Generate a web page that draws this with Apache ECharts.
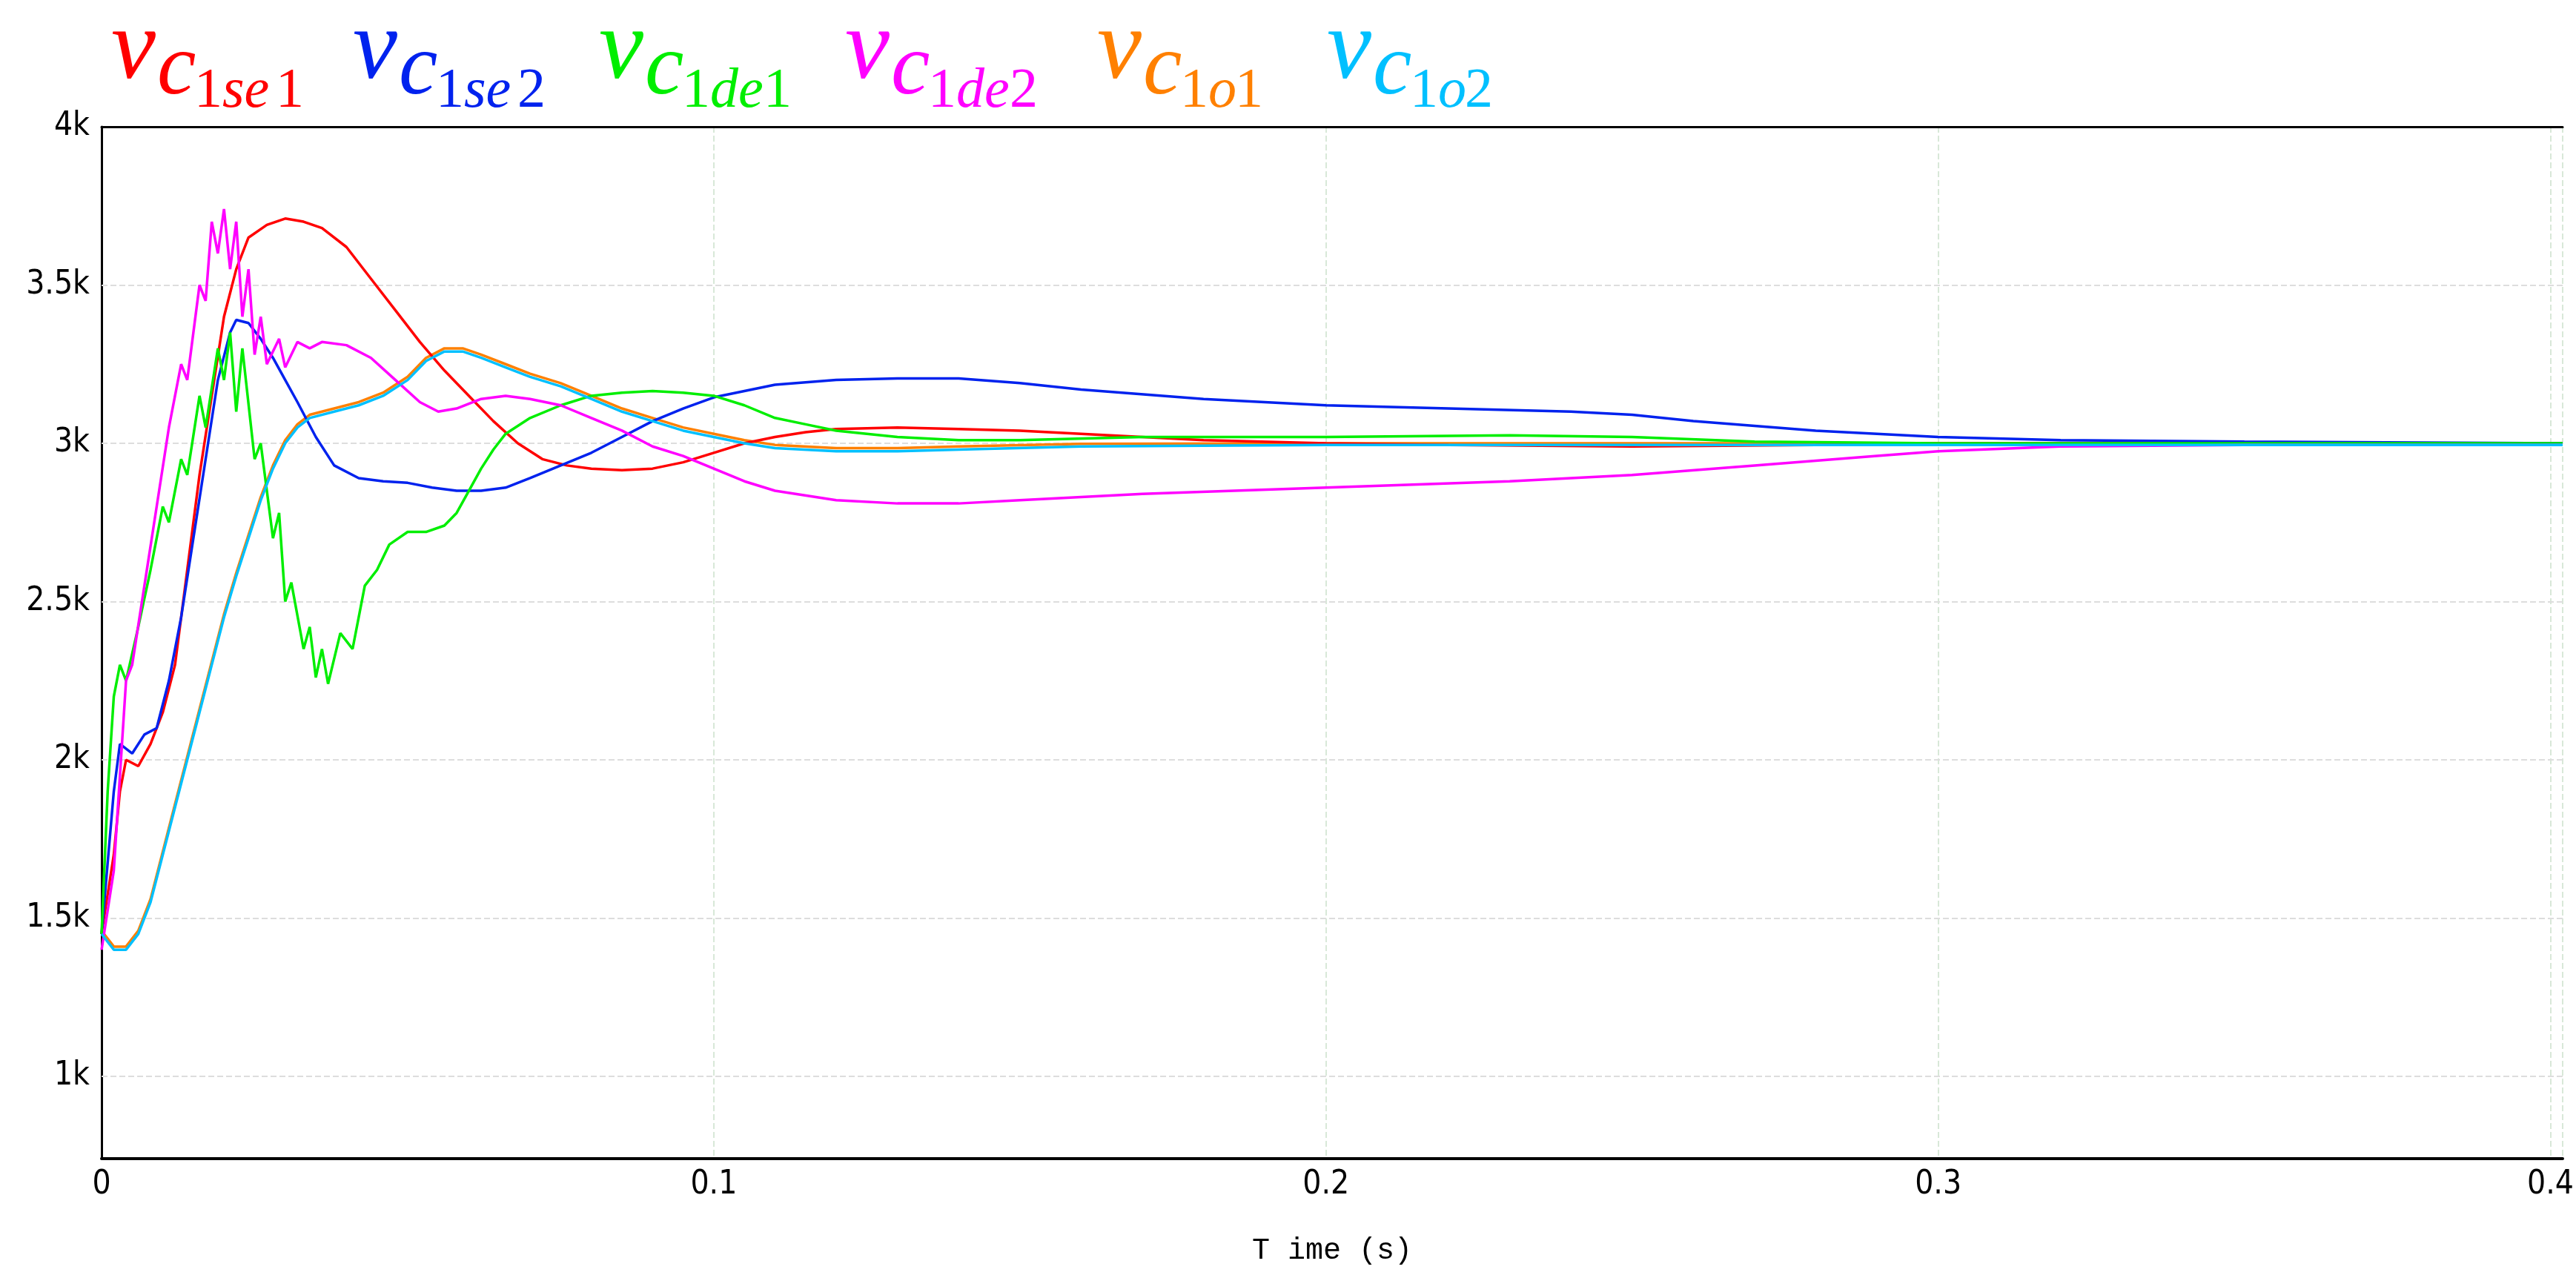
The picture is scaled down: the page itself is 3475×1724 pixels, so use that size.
<!DOCTYPE html>
<html><head><meta charset="utf-8">
<script src="https://cdn.jsdelivr.net/npm/echarts@6/dist/echarts.min.js"></script>
<style>html,body{margin:0;background:#fff}#c{width:3475px;height:1724px}</style>
</head><body><div id="c"></div>
<script>
const xTicks = [0, 0.1, 0.2, 0.3, 0.4];
const yTicks = [1000, 1500, 2000, 2500, 3000, 3500, 4000];
const seriesNames = ['se1','se2','de1','de2','o1','o2'];
const colors = ['#ff0000','#0022ee','#00ee00','#ff00ff','#ff8000','#00c0ff'];

const se1 = [[0,1450],[0.002,1700],[0.003,1900],[0.004,2000],[0.006,1980],[0.008,2050],[0.010,2150],[0.012,2300],[0.014,2600],[0.016,2900],[0.018,3150],[0.020,3400],[0.022,3550],[0.024,3650],[0.027,3690],[0.030,3710],[0.033,3700],[0.036,3680],[0.040,3620],[0.044,3520],[0.048,3420],[0.052,3320],[0.056,3230],[0.060,3150],[0.064,3070],[0.068,3000],[0.072,2950],[0.076,2930],[0.080,2920],[0.085,2915],[0.090,2920],[0.095,2940],[0.100,2970],[0.105,3000],[0.110,3020],[0.115,3035],[0.120,3045],[0.130,3050],[0.140,3045],[0.150,3040],[0.160,3030],[0.170,3020],[0.180,3010],[0.200,3000],[0.220,2995],[0.250,2990],[0.280,2995],[0.300,3000],[0.350,3000],[0.402,2995]];
const se2 = [[0,1450],[0.002,1900],[0.003,2050],[0.005,2020],[0.007,2080],[0.009,2100],[0.011,2250],[0.013,2450],[0.015,2700],[0.017,2950],[0.019,3200],[0.021,3350],[0.022,3390],[0.024,3380],[0.026,3330],[0.028,3270],[0.030,3200],[0.032,3130],[0.035,3020],[0.038,2930],[0.042,2890],[0.046,2880],[0.050,2875],[0.054,2860],[0.058,2850],[0.062,2850],[0.066,2860],[0.070,2890],[0.075,2930],[0.080,2970],[0.085,3020],[0.090,3070],[0.095,3110],[0.100,3145],[0.110,3185],[0.120,3200],[0.130,3205],[0.140,3205],[0.150,3190],[0.160,3170],[0.180,3140],[0.200,3120],[0.220,3110],[0.240,3100],[0.250,3090],[0.260,3070],[0.280,3040],[0.300,3020],[0.320,3010],[0.350,3005],[0.402,3000]];
const de1 = [[0,1450],[0.001,1900],[0.002,2200],[0.003,2300],[0.004,2250],[0.006,2420],[0.008,2600],[0.010,2800],[0.011,2750],[0.013,2950],[0.014,2900],[0.016,3150],[0.017,3050],[0.019,3300],[0.020,3200],[0.021,3350],[0.022,3100],[0.023,3300],[0.025,2950],[0.026,3000],[0.028,2700],[0.029,2780],[0.030,2500],[0.031,2560],[0.033,2350],[0.034,2420],[0.035,2260],[0.036,2350],[0.037,2240],[0.039,2400],[0.041,2350],[0.043,2550],[0.045,2600],[0.047,2680],[0.050,2720],[0.053,2720],[0.056,2740],[0.058,2780],[0.060,2850],[0.062,2920],[0.064,2980],[0.066,3030],[0.070,3080],[0.075,3120],[0.080,3150],[0.085,3160],[0.090,3165],[0.095,3160],[0.100,3150],[0.105,3120],[0.110,3080],[0.115,3060],[0.120,3040],[0.130,3020],[0.140,3010],[0.150,3010],[0.170,3020],[0.200,3020],[0.230,3025],[0.250,3020],[0.270,3005],[0.300,3000],[0.402,3000]];
const de2 = [[0,1400],[0.002,1650],[0.003,1950],[0.004,2250],[0.005,2300],[0.007,2550],[0.009,2800],[0.011,3050],[0.013,3250],[0.014,3200],[0.016,3500],[0.017,3450],[0.018,3700],[0.019,3600],[0.020,3740],[0.021,3550],[0.022,3700],[0.023,3400],[0.024,3550],[0.025,3280],[0.026,3400],[0.027,3250],[0.029,3330],[0.030,3240],[0.032,3320],[0.034,3300],[0.036,3320],[0.040,3310],[0.044,3270],[0.048,3200],[0.052,3130],[0.055,3100],[0.058,3110],[0.062,3140],[0.066,3150],[0.070,3140],[0.075,3120],[0.080,3080],[0.085,3040],[0.090,2990],[0.095,2960],[0.100,2920],[0.105,2880],[0.110,2850],[0.120,2820],[0.130,2810],[0.140,2810],[0.150,2820],[0.170,2840],[0.200,2860],[0.230,2880],[0.250,2900],[0.270,2930],[0.290,2960],[0.300,2975],[0.320,2990],[0.350,2995],[0.402,2995]];
const o1 = [[0,1460],[0.002,1410],[0.004,1410],[0.006,1460],[0.008,1560],[0.010,1710],[0.012,1860],[0.014,2010],[0.016,2160],[0.018,2310],[0.020,2460],[0.022,2590],[0.024,2710],[0.026,2830],[0.028,2930],[0.030,3010],[0.032,3060],[0.034,3090],[0.038,3110],[0.042,3130],[0.046,3160],[0.050,3210],[0.053,3270],[0.056,3300],[0.059,3300],[0.062,3280],[0.066,3250],[0.070,3220],[0.075,3190],[0.080,3150],[0.085,3110],[0.090,3080],[0.095,3050],[0.100,3030],[0.105,3010],[0.110,2995],[0.120,2985],[0.130,2985],[0.140,2990],[0.160,2998],[0.200,3000],[0.402,3000]];
const o2 = [[0,1450],[0.002,1400],[0.004,1400],[0.006,1450],[0.008,1550],[0.010,1700],[0.012,1850],[0.014,2000],[0.016,2150],[0.018,2300],[0.020,2450],[0.022,2580],[0.024,2700],[0.026,2820],[0.028,2920],[0.030,3000],[0.032,3050],[0.034,3080],[0.038,3100],[0.042,3120],[0.046,3150],[0.050,3200],[0.053,3260],[0.056,3290],[0.059,3290],[0.062,3270],[0.066,3240],[0.070,3210],[0.075,3180],[0.080,3140],[0.085,3100],[0.090,3070],[0.095,3040],[0.100,3020],[0.105,3000],[0.110,2985],[0.120,2975],[0.130,2975],[0.140,2980],[0.160,2990],[0.200,2995],[0.402,2995]];
const allData = [se1, se2, de1, de2, o1, o2];

const chart = echarts.init(document.getElementById('c'));
const legendX = [150, 476, 808, 1140, 1480, 1790];
const graphics = [];
seriesNames.forEach((n, i) => {
  const x = legendX[i], c = colors[i];
  const f = s => 'italic ' + s + 'px "Liberation Serif", serif';
  const r = s => s + 'px "Liberation Serif", serif';
  graphics.push({type:'text', left:x, top:2, style:{text:'v', fill:c, font:f(135)}});
  graphics.push({type:'text', left:x+62, top:36, style:{text:'c', fill:c, font:f(118)}});
  graphics.push({type:'text', left:x+112, top:86, style:{text:'1', fill:c, font:r(76)}});
  const lt = n.replace(/\d$/,'');
  graphics.push({type:'text', left:x+150, top:86, style:{text:lt, fill:c, font:f(76)}});
  graphics.push({type:'text', left:x+150+lt.length*36, top:86, style:{text:n.slice(-1), fill:c, font:r(76)}});
});

chart.setOption({
  animation:false,
  backgroundColor:'#fff',
  graphic: graphics,
  grid:{left:137, right:18, top:171, bottom:161, show:false},
  xAxis:[{type:'value', min:0, max:0.402, interval:0.1,
    axisLine:{show:true,lineStyle:{color:'#000',width:4}}, axisTick:{show:false},
    axisLabel:{color:'#000', fontSize:44, fontFamily:'"DejaVu Sans Condensed", sans-serif', margin:14,
      formatter:v => xTicks.includes(Math.round(v*10)/10) ? String(Math.round(v*10)/10) : ''},
    splitLine:{show:true, lineStyle:{color:'#d8e8d8', width:2, type:'dashed'}},
    name:'T ime (s)', nameLocation:'middle', nameGap:104,
    nameTextStyle:{color:'#000', fontSize:40, fontFamily:'"Liberation Mono", monospace'}},
    {type:'value', position:'top', min:0, max:0.402, axisLine:{show:true,lineStyle:{color:'#000',width:3}},
     axisTick:{show:false}, axisLabel:{show:false}, splitLine:{show:false}}],
  yAxis:{type:'value', min:740, max:4000, interval:20,
    axisLine:{show:true,lineStyle:{color:'#000',width:3}}, axisTick:{show:false},
    axisLabel:{color:'#000', fontSize:44, fontFamily:'"DejaVu Sans Condensed", sans-serif', margin:16,
      formatter:v => yTicks.includes(v) ? (v/1000)+'k' : ''},
    splitLine:{show:false}},
  series: allData.map((d, i) => ({
    type:'line', name:seriesNames[i], data:d, showSymbol:false, z: 10 - (i===4?1:0),
    lineStyle:{color:colors[i], width:3.5}, itemStyle:{color:colors[i]},
    markLine: i===0 ? {silent:true, symbol:'none', label:{show:false},
      lineStyle:{color:'#dddddd', width:2, type:'dashed'},
      data: yTicks.filter(v => v < 4000).map(v => ({yAxis:v}))} : undefined
  }))
});
</script></body></html>
